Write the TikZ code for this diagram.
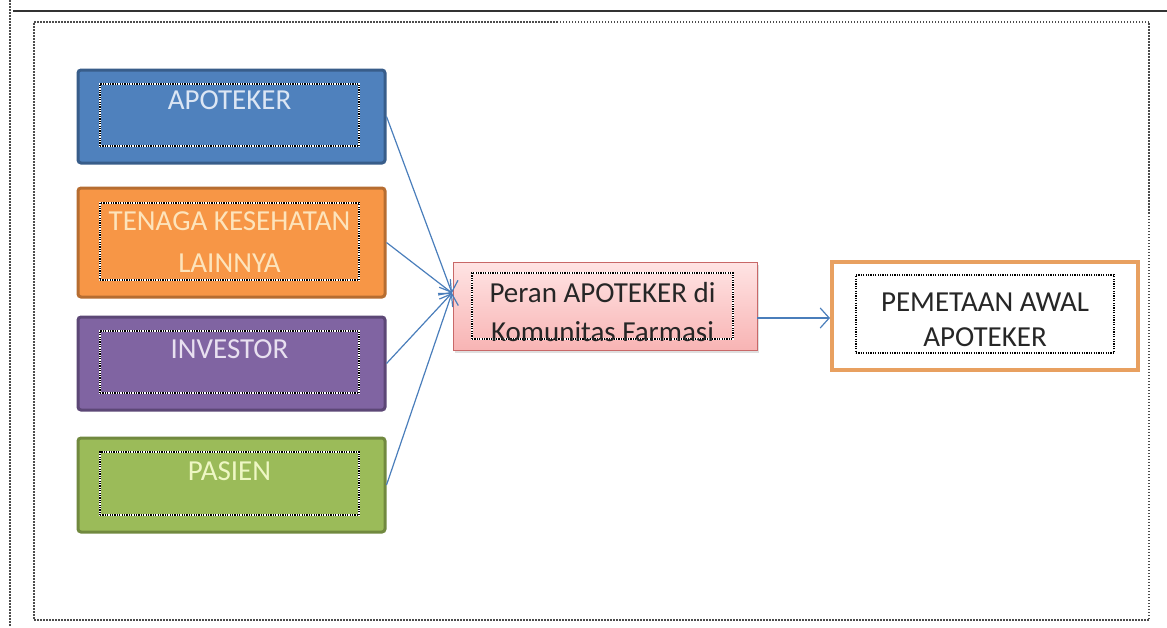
\documentclass[tikz,border=0pt]{standalone}
\usepackage{fontspec}
\setmainfont{Carlito}
\usetikzlibrary{arrows.meta,shadows}
\definecolor{bluef}{HTML}{4F81BD}\definecolor{blued}{HTML}{385D8A}\definecolor{bluet}{HTML}{DCE6F4}
\definecolor{orf}{HTML}{F79646}\definecolor{ord}{HTML}{B66D31}\definecolor{ort}{HTML}{FDE4BC}
\definecolor{puf}{HTML}{8064A2}\definecolor{pud}{HTML}{5C4776}\definecolor{put}{HTML}{E8E0F0}
\definecolor{grf}{HTML}{9BBB59}\definecolor{grd}{HTML}{71893F}\definecolor{grt}{HTML}{EEF7C4}
\definecolor{pinkt}{HTML}{FFE4E4}\definecolor{pinkb}{HTML}{F8B4B4}\definecolor{pinkd}{HTML}{C86868}
\definecolor{pemo}{HTML}{E8A060}\definecolor{arrc}{HTML}{4A7EBB}\definecolor{txtd}{HTML}{262626}
\begin{document}
\begin{tikzpicture}[x=1pt,y=-1pt,
  srcbox/.style={draw=#1!70!black,line width=3pt,rounded corners=3pt,fill=#1,minimum width=307pt,inner sep=0pt},
  dotbox/.style={draw=white,line width=1.2pt,minimum width=259pt,inner sep=0pt,
    postaction={draw=black,dash pattern=on 1.2pt off 1.2pt}},
  lbl/.style={font=\fontsize{29}{42}\selectfont,align=center,text=#1},
  arr/.style={draw=arrc,line width=1.2pt,-{Straight Barb[length=9pt,width=20pt,line width=1.2pt]}}]
\useasboundingbox (0,0) rectangle (1167,627);
\fill[white] (0,0) rectangle (1167,627);
% outer frame
\draw[gray!40!black,line width=2pt] (13,11) -- (1167,11);
\draw[gray!60!black,line width=1.5pt,dash pattern=on 1.5pt off 1.5pt] (10,0) -- (10,627);
\node[draw=gray!60!black,line width=1.5pt,dash pattern=on 1.5pt off 1.5pt,minimum width=1115pt,minimum height=598pt,inner sep=0pt] (frame) at (591.5,321) {};
% source boxes
\node[srcbox=bluef,draw=blued,minimum height=93pt] (apo) at (231.5,116.5) {};
\node[dotbox,minimum height=62pt] (apoin) at (229.5,115) {};
\node[lbl=bluet] (apot) at (229.5,100) {APOTEKER};
\node[srcbox=orf,draw=ord,minimum height=109pt] (ten) at (231.5,242.5) {};
\node[dotbox,minimum height=77pt] (tenin) at (229.5,241.5) {};
\node[lbl=ort] (tent) at (229.5,242) {TENAGA KESEHATAN\\LAINNYA};
\node[srcbox=puf,draw=pud,minimum height=93pt] (inv) at (231.5,363.5) {};
\node[dotbox,minimum height=62pt] (invin) at (229.5,362) {};
\node[lbl=put] (invt) at (229.5,349) {INVESTOR};
\node[srcbox=grf,draw=grd,minimum height=94pt] (pas) at (231.5,485) {};
\node[dotbox,minimum height=63pt] (pasin) at (229.5,483.5) {};
\node[lbl=grt] (past) at (229.5,471) {PASIEN};
% central box
\node[draw=pinkd,line width=0.8pt,top color=pinkt,bottom color=pinkb,minimum width=304pt,minimum height=88pt,inner sep=0pt,
  drop shadow={shadow xshift=2pt,shadow yshift=-3pt,opacity=0.25}] (per) at (605,306) {};
\node[dotbox,minimum width=261pt,minimum height=66pt] (perin) at (602.5,306) {};
\node[font=\fontsize{29}{39}\selectfont,align=center,text=txtd] (pert) at (602.5,312) {Peran APOTEKER di\\Komunitas Farmasi};
% result box
\node[draw=pemo,line width=4pt,fill=white,minimum width=306pt,minimum height=108pt,inner sep=0pt] (pem) at (985,316) {};
\node[dotbox,minimum width=258pt,minimum height=78pt] (pemin) at (985,314) {};
\node[font=\fontsize{29}{35}\selectfont,align=center,text=txtd] (pemt) at (985,320) {PEMETAAN AWAL\\APOTEKER};
% connectors
\coordinate (conv) at (452,293);
\draw[arr] (apo.east) -- (conv);
\draw[arr] (ten.east) -- (conv);
\draw[arr] (inv.east) -- (conv);
\draw[arr] (pas.east) -- (conv);
\draw[arr] ([yshift=-12pt]per.east) -- ([yshift=-2pt]pem.west);
\end{tikzpicture}
\end{document}
